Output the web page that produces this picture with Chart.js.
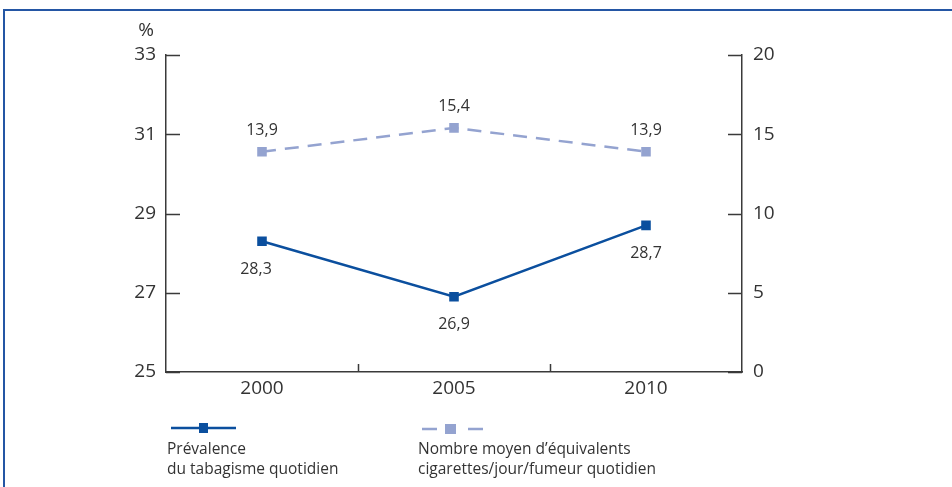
<!DOCTYPE html>
<html>
<head>
<meta charset="utf-8">
<script src="https://cdn.jsdelivr.net/npm/chart.js@4.4.0/dist/chart.umd.min.js"></script>
<style>
  html, body { margin: 0; padding: 0; background: #fff; }
  #wrap { position: relative; width: 952px; height: 487px; }
  #frame { position: absolute; left: 3px; top: 9px; width: 960px; height: 500px;
           border-top: 2px solid #2456a4; border-left: 2px solid #2456a4; }
  canvas { position: absolute; left: 0; top: 0; }
</style>
</head>
<body>
<div id="wrap">
  <div id="frame"></div>
  <canvas id="myChart" width="952" height="487"></canvas>
</div>
<script>
// data
const years = ['2000', '2005', '2010'];
const prevalence = [28.3, 26.9, 28.7];        // % (left axis)
const cigarettes = [13.9, 15.4, 13.9];        // right axis
const prevalenceLabel = ['Prévalence', 'du tabagisme quotidien'];
const cigarettesLabel = ['Nombre moyen d\u2019équivalents', 'cigarettes/jour/fumeur quotidien'];
const leftTicks = [25, 27, 29, 31, 33];
const rightTicks = [0, 5, 10, 15, 20];

const dark = '#0b4f9e';
const light = '#94a3d0';
const axisColor = '#3a3a3a';
const textColor = '#333333';
const fontFam = '"Open Sans", "DejaVu Sans", sans-serif';

const fmt = v => String(v).replace('.', ',');

// ticks pointing into the plot, value labels, "%" and the legend
const extras = {
    id: 'extras',
    afterDatasetsDraw(chart) {
        const c = chart.ctx;
        c.save();
        c.font = '16px ' + fontFam;
        c.fillStyle = textColor;
        c.textAlign = 'center';
        c.textBaseline = 'middle';
        chart.getDatasetMeta(0).data.forEach((p, i) => {
            c.fillText(fmt(prevalence[i]), p.x - (i == 0 ? 6 : 0), p.y + 28);
        });
        chart.getDatasetMeta(1).data.forEach((p, i) => {
            c.fillText(fmt(cigarettes[i]), p.x, p.y - 21);
        });
        c.restore();
    },
    afterDraw(chart) {
        const c = chart.ctx;
        const a = chart.chartArea;
        const y = chart.scales.y, y1 = chart.scales.y1, x = chart.scales.x;
        c.save();
        c.strokeStyle = axisColor;
        c.lineWidth = 1.5;
        c.beginPath();
        leftTicks.forEach(v => {
            const py = Math.round(y.getPixelForValue(v)) + 0.5;
            c.moveTo(a.left, py); c.lineTo(a.left + 14, py);
        });
        rightTicks.forEach(v => {
            const py = Math.round(y1.getPixelForValue(v)) + 0.5;
            c.moveTo(a.right - 14, py); c.lineTo(a.right, py);
        });
        for (let i = 0; i < years.length - 1; i++) {
            const px = Math.round((x.getPixelForValue(i) + x.getPixelForValue(i + 1)) / 2) + 0.5;
            c.moveTo(px, a.bottom); c.lineTo(px, a.bottom - 8);
        }
        c.stroke();

        c.fillStyle = textColor;
        c.font = '19px ' + fontFam;
        c.textAlign = 'center';
        c.textBaseline = 'middle';
        c.fillText('%', 146, 31);

        // legend
        c.lineWidth = 2.5;
        c.strokeStyle = dark;
        c.beginPath(); c.moveTo(171, 428); c.lineTo(236, 428); c.stroke();
        c.fillStyle = dark;
        c.fillRect(199, 423, 9, 10);

        c.strokeStyle = light;
        c.beginPath();
        c.moveTo(422, 429); c.lineTo(437, 429);
        c.moveTo(468, 429); c.lineTo(483, 429);
        c.stroke();
        c.fillStyle = light;
        c.fillRect(445, 424, 11, 10);

        c.fillStyle = textColor;
        c.font = '15.5px ' + fontFam;
        c.textAlign = 'left';
        prevalenceLabel.forEach((t, i) => c.fillText(t, 167, 450 + i * 20));
        cigarettesLabel.forEach((t, i) => c.fillText(t, 418, 450 + i * 20));
        c.restore();
    }
};

const ctx = document.getElementById('myChart');
const myChart = new Chart(ctx, {
    type: 'line',
    data: {
        labels: years,
        datasets: [{
            label: prevalenceLabel.join(' '),
            data: prevalence,
            yAxisID: 'y',
            borderColor: dark,
            backgroundColor: dark,
            borderWidth: 2.5,
            pointStyle: 'rect',
            pointRadius: 5,
            pointHoverRadius: 5,
            tension: 0
        }, {
            label: cigarettesLabel.join(' '),
            data: cigarettes,
            yAxisID: 'y1',
            borderColor: light,
            backgroundColor: light,
            borderWidth: 2.5,
            borderDash: [14, 9],
            pointStyle: 'rect',
            pointRadius: 5,
            pointHoverRadius: 5,
            tension: 0
        }]
    },
    options: {
        responsive: false,
        animation: false,
        layout: { padding: { left: 90, right: 100, top: 55, bottom: 0 } },
        plugins: { legend: { display: false }, tooltip: { enabled: false } },
        scales: {
            x: {
                offset: true,
                grid: { display: false, drawTicks: false, offset: true },
                border: { color: axisColor, width: 1.5 },
                ticks: { color: textColor, font: { size: 19, family: fontFam }, padding: 5 },
                afterFit(s) { s.height = 115; }
            },
            y: {
                position: 'left',
                min: 25, max: 33,
                grid: { display: false, drawTicks: false },
                border: { color: axisColor, width: 1.5 },
                ticks: { stepSize: 2, color: textColor, font: { size: 19, family: fontFam }, padding: 10 },
                afterFit(s) { s.width = 76; }
            },
            y1: {
                position: 'right',
                min: 0, max: 20,
                grid: { display: false, drawTicks: false },
                border: { color: axisColor, width: 1.5 },
                ticks: { stepSize: 5, color: textColor, font: { size: 19, family: fontFam }, padding: 11 },
                afterFit(s) { s.width = 110; }
            }
        }
    },
    plugins: [extras]
});
</script>
</body>
</html>
